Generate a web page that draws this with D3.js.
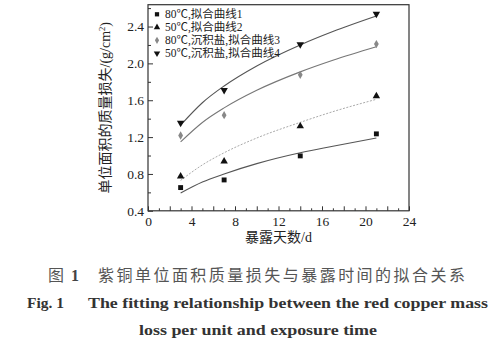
<!DOCTYPE html>
<html><head><meta charset="utf-8">
<script src="https://cdn.jsdelivr.net/npm/d3@7"></script>
<style>body{margin:0;background:#fff}svg{display:block}</style>
</head><body>
<script>
// ---- data ----
const days = [3, 7, 14, 21];
const s1 = [0.652, 0.735, 0.996, 1.235];   // 80℃
const s2 = [0.775, 0.938, 1.318, 1.645];   // 50℃
const s3 = [1.217, 1.438, 1.876, 2.21];    // 80℃ 沉积盐
const s4 = [1.354, 1.71, 2.206, 2.536];    // 50℃ 沉积盐
const fitX = [3, 5, 7, 10, 14, 17, 21];
const fit1 = [0.593, 0.712, 0.80, 0.912, 1.03, 1.10, 1.19];
const fit2 = [0.73, 0.898, 1.03, 1.19, 1.36, 1.476, 1.61];
const fit3 = [1.148, 1.359, 1.517, 1.708, 1.908, 2.034, 2.18];
const fit4 = [1.33, 1.573, 1.755, 1.972, 2.20, 2.345, 2.514];
const legendLabels = ["80℃,拟合曲线1", "50℃,拟合曲线2", "80℃,沉积盐,拟合曲线3", "50℃,沉积盐,拟合曲线4"];
const xTicks = [0, 4, 8, 12, 16, 20, 24];
const yTicks = [0.4, 0.8, 1.2, 1.6, 2.0, 2.4];

const W = 504, H = 364;
const svg = d3.select("body").append("svg").attr("width", W).attr("height", H);
const L = 148, R = 409, T = 4.7, B = 210.8;
const x = d3.scaleLinear().domain([0, 24]).range([L, R]);
const y = d3.scaleLinear().domain([0.4, 2.637]).range([B, T]);
const serif = "'Liberation Serif','Times New Roman','Noto Sans CJK SC',serif";

// frame
svg.append("rect").attr("x", L).attr("y", T).attr("width", R - L).attr("height", B - T)
  .attr("fill", "none").attr("stroke", "#333").attr("stroke-width", 1.2);

// x ticks (inward)
const xa = svg.append("g").attr("transform", `translate(0,${B})`)
  .call(d3.axisBottom(x).tickValues(d3.range(0, 25, 1)).tickSize(-3).tickFormat(""));
xa.select(".domain").remove();
xa.selectAll(".tick line").attr("stroke", "#333").attr("y2", d => d % 2 === 0 ? -4.5 : -2.5);
const xl = svg.append("g").attr("transform", `translate(0,${B})`)
  .call(d3.axisBottom(x).tickValues(xTicks).tickSize(0).tickPadding(6).tickFormat(d3.format("d")));
xl.select(".domain").remove();
xl.selectAll("text").attr("font-family", serif).attr("font-size", 13.5).attr("fill", "#222");

// y ticks
const ya = svg.append("g").attr("transform", `translate(${L},0)`)
  .call(d3.axisLeft(y).tickValues(d3.range(0.4, 2.61, 0.2)).tickSize(-3).tickFormat(""));
ya.select(".domain").remove();
ya.selectAll(".tick line").attr("stroke", "#333")
  .attr("x2", (d, i) => i % 2 === 0 ? 5 : 3);
const yl = svg.append("g").attr("transform", `translate(${L},0)`)
  .call(d3.axisLeft(y).tickValues(yTicks).tickSize(0).tickPadding(4).tickFormat(d3.format(".1f")));
yl.select(".domain").remove();
yl.selectAll("text").attr("font-family", serif).attr("font-size", 13.5).attr("fill", "#222");

// axis titles
svg.append("text").attr("x", x(12)).attr("y", 242).attr("text-anchor", "middle")
  .attr("font-family", serif).attr("font-size", 14).attr("fill", "#222").text("暴露天数/d");
const yt = svg.append("text").attr("transform", `translate(110,${(T + B) / 2}) rotate(-90)`)
  .attr("text-anchor", "middle").attr("font-family", serif).attr("font-size", 14).attr("fill", "#222");
yt.append("tspan").text("单位面积的质量损失/(g/cm");
yt.append("tspan").attr("font-size", 8.5).attr("dy", -5).text("2");
yt.append("tspan").attr("dy", 5).text(")");

// fit curves
const line = d3.line().x(d => x(d[0])).y(d => y(d[1])).curve(d3.curveMonotoneX);
const fits = [
  {v: fit1, c: "#555", w: 1.1, dash: null},
  {v: fit2, c: "#aaa", w: 1.0, dash: "2,1.5"},
  {v: fit3, c: "#777", w: 1.1, dash: null},
  {v: fit4, c: "#555", w: 1.1, dash: null}
];
fits.forEach(f => {
  svg.append("path").datum(fitX.map((d, i) => [d, f.v[i]])).attr("d", line)
    .attr("fill", "none").attr("stroke", f.c).attr("stroke-width", f.w)
    .attr("stroke-dasharray", f.dash);
});

// markers
const sym = [
  {t: d3.symbolSquare, s: 24, c: "#111", rot: 0},
  {t: d3.symbolTriangle, s: 24, c: "#111", rot: 0},
  {t: d3.symbolDiamond, s: 20, c: "#888", rot: 0},
  {t: d3.symbolTriangle, s: 24, c: "#111", rot: 180}
];
[s1, s2, s3, s4].forEach((s, k) => {
  svg.append("g").selectAll("path").data(s).join("path")
    .attr("d", d3.symbol().type(sym[k].t).size(sym[k].s))
    .attr("transform", (d, i) => `translate(${x(days[i])},${y(d)}) rotate(${sym[k].rot})`)
    .attr("fill", sym[k].c);
});

// legend
legendLabels.forEach((lab, k) => {
  const yy = 14.3 + k * 13;
  svg.append("path").attr("d", d3.symbol().type(sym[k].t).size(sym[k].s * 0.75))
    .attr("transform", `translate(157,${yy}) rotate(${sym[k].rot})`).attr("fill", sym[k].c);
  svg.append("text").attr("x", 165).attr("y", yy + 4).attr("font-family", serif)
    .attr("font-size", 11.5).attr("fill", "#222").text(lab);
});

// caption
svg.append("text").attr("x", 48).attr("y", 281).attr("font-family", serif)
  .attr("font-size", 16).attr("fill", "#555").text("图");
svg.append("text").attr("x", 71).attr("y", 281).attr("font-family", serif)
  .attr("font-size", 16).attr("font-weight", "bold").attr("fill", "#444").text("1");
svg.append("text").attr("x", 98).attr("y", 281).attr("font-family", serif)
  .attr("font-size", 16).attr("fill", "#555").attr("textLength", 367).attr("lengthAdjust", "spacing")
  .text("紫铜单位面积质量损失与暴露时间的拟合关系");
svg.append("text").attr("x", 27).attr("y", 308).attr("font-family", serif)
  .attr("font-size", 15.5).attr("font-weight", "bold").attr("fill", "#333").text("Fig. 1");
svg.append("text").attr("x", 88).attr("y", 308).attr("font-family", serif)
  .attr("font-size", 15.5).attr("font-weight", "bold").attr("fill", "#333")
  .attr("textLength", 400).attr("lengthAdjust", "spacingAndGlyphs")
  .text("The fitting relationship between the red copper mass");
svg.append("text").attr("x", 139).attr("y", 335).attr("font-family", serif)
  .attr("font-size", 15.5).attr("font-weight", "bold").attr("fill", "#333")
  .attr("textLength", 238).attr("lengthAdjust", "spacingAndGlyphs")
  .text("loss per unit and exposure time");
</script>
</body></html>
